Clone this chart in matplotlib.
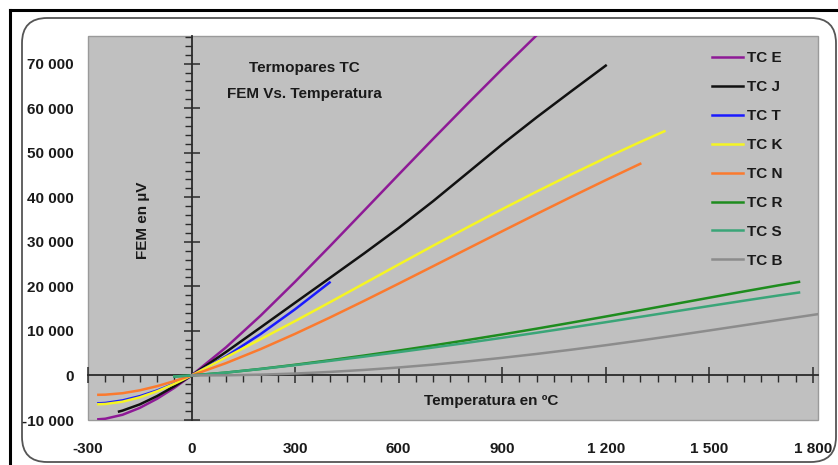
import matplotlib
matplotlib.use("Agg")
import matplotlib.pyplot as plt
from matplotlib.patches import FancyBboxPatch, Rectangle
from matplotlib.lines import Line2D
from matplotlib.ticker import MultipleLocator, FuncFormatter

# ---------------- data (µV vs °C) ----------------
E_t = [-270, -250, -200, -150, -100, -50, 0, 100, 200, 300, 400, 500, 600, 700, 800, 900, 1000]
E_v = [-9835, -9718, -8825, -7279, -5237, -2787, 0, 6319, 13421, 21036, 28946, 37005, 45093,
       53112, 61017, 68787, 76373]

J_t = [-210, -200, -150, -100, -50, 0, 100, 200, 300, 400, 500, 600, 700, 800, 900, 1000, 1100, 1200]
J_v = [-8095, -7890, -6500, -4633, -2431, 0, 5269, 10779, 16327, 21848, 27393, 33102, 39132,
       45494, 51877, 57953, 63792, 69553]

T_t = [-270, -250, -200, -150, -100, -50, 0, 100, 200, 300, 400]
T_v = [-6258, -6180, -5603, -4648, -3379, -1819, 0, 4279, 9288, 14862, 20872]

K_t = [-270, -250, -200, -150, -100, -50, 0, 100, 200, 300, 400, 500, 600, 700, 800, 900, 1000,
       1100, 1200, 1300, 1370]
K_v = [-6458, -6404, -5891, -4913, -3554, -1889, 0, 4096, 8138, 12209, 16397, 20644, 24905, 29129,
       33275, 37326, 41276, 45119, 48838, 52410, 54819]

N_t = [-270, -250, -200, -150, -100, -50, 0, 100, 200, 300, 400, 500, 600, 700, 800, 900, 1000,
       1100, 1200, 1300]
N_v = [-4345, -4313, -3990, -3336, -2407, -1269, 0, 2774, 5913, 9341, 12974, 16748, 20613, 24527,
       28455, 32371, 36256, 40087, 43846, 47513]

R_t = [-50, 0, 100, 200, 300, 400, 500, 600, 700, 800, 900, 1000, 1100, 1200, 1300, 1400, 1500,
       1600, 1700, 1760]
R_v = [-226, 0, 647, 1469, 2401, 3408, 4471, 5583, 6743, 7950, 9205, 10506, 11850, 13228, 14629,
       16040, 17451, 18849, 20222, 21003]

S_t = [-50, 0, 100, 200, 300, 400, 500, 600, 700, 800, 900, 1000, 1100, 1200, 1300, 1400, 1500,
       1600, 1700, 1760]
S_v = [-236, 0, 646, 1441, 2323, 3259, 4233, 5239, 6275, 7345, 8449, 9587, 10757, 11951, 13159,
       14373, 15582, 16777, 17947, 18612]

B_t = [0, 100, 200, 300, 400, 500, 600, 700, 800, 900, 1000, 1100, 1200, 1300, 1400, 1500, 1600,
       1700, 1800, 1820]
B_v = [0, 33, 178, 431, 787, 1242, 1792, 2431, 3154, 3957, 4834, 5780, 6786, 7848, 8956, 10099,
       11263, 12433, 13591, 13820]

series_names = ["TC E", "TC J", "TC T", "TC K", "TC N", "TC R", "TC S", "TC B"]
series_t = [E_t, J_t, T_t, K_t, N_t, R_t, S_t, B_t]
series_v = [E_v, J_v, T_v, K_v, N_v, R_v, S_v, B_v]
series_colors = ["#8e1a96", "#111111", "#1a1aff", "#f5f523", "#fb7a2e", "#1e8c1e", "#3aa578", "#8c8c8c"]

x_ticks = [-300, 0, 300, 600, 900, 1200, 1500, 1800]
y_ticks = [-10000, 0, 10000, 20000, 30000, 40000, 50000, 60000, 70000]

# ---------------- style ----------------
FONT = ["Liberation Sans Narrow", "Liberation Sans", "DejaVu Sans"]
plt.rcParams["font.family"] = FONT
plt.rcParams["font.weight"] = "bold"
TXT = "#1a1a1a"
FS = 11

W, H = 838, 465
fig = plt.figure(figsize=(W / 100, H / 100), dpi=100)
fig.patch.set_facecolor("white")

def fx(px):
    return px / W

def fy(py):
    return 1 - py / H

# outer decorations (behind the axes)
fig.add_artist(Line2D([fx(10), 1], [fy(10), fy(10)], color="black", lw=2.2,
                      transform=fig.transFigure, zorder=-2))
fig.add_artist(Line2D([fx(10), fx(10)], [fy(10), 0], color="black", lw=2.2,
                      transform=fig.transFigure, zorder=-2))
fig.add_artist(FancyBboxPatch((fx(22), fy(462)), fx(836) - fx(22), fy(18) - fy(462),
                              boxstyle="round,pad=0,rounding_size=0.03",
                              mutation_aspect=W / H,
                              transform=fig.transFigure, facecolor="white",
                              edgecolor="#555555", lw=1.3, zorder=-1))

pos = [fx(88), fy(420), fx(818) - fx(88), fy(36) - fy(420)]
xlim = (-300, 1815)
ylim = (-10000, 76200)

fmt = FuncFormatter(lambda v, p: f"{v:,.0f}".replace(",", " "))

# label axes (tick labels at the outer edges)
lab = fig.add_axes(pos)
lab.set_xlim(*xlim)
lab.set_ylim(*ylim)
lab.patch.set_visible(False)
for s in lab.spines.values():
    s.set_visible(False)
lab.set_xticks(x_ticks)
lab.set_yticks(y_ticks)
lab.xaxis.set_major_formatter(fmt)
lab.yaxis.set_major_formatter(fmt)
lab.tick_params(axis="x", length=0, pad=16, labelsize=FS, labelcolor=TXT)
lab.tick_params(axis="y", length=0, pad=10, labelsize=FS, labelcolor=TXT)
for t in lab.get_xticklabels() + lab.get_yticklabels():
    t.set_fontweight("bold")

# main axes
ax = fig.add_axes(pos)
ax.set_facecolor("#c0c0c0")
ax.set_xlim(*xlim)
ax.set_ylim(*ylim)
ax.add_patch(Rectangle((0, 0), 1, 1, transform=ax.transAxes, fill=False,
                       edgecolor="#9a9a9a", lw=1.0, zorder=1, clip_on=False))
for side in ["top", "right"]:
    ax.spines[side].set_visible(False)
ax.spines["left"].set_position(("data", 0))
ax.spines["bottom"].set_position(("data", 0))
ax.spines["left"].set_color("#2a2a2a")
ax.spines["bottom"].set_color("#2a2a2a")
ax.spines["left"].set_linewidth(1.3)
ax.spines["bottom"].set_linewidth(1.3)
ax.set_xticks(x_ticks)
ax.set_yticks(y_ticks)
ax.xaxis.set_minor_locator(MultipleLocator(50))
ax.yaxis.set_minor_locator(MultipleLocator(2000))
ax.tick_params(which="major", direction="inout", length=11, width=1.1, color="#2a2a2a",
               labelbottom=False, labelleft=False)
ax.tick_params(which="minor", direction="out", length=5, width=1.0, color="#2a2a2a")

handles = []
for name, t, v, c in zip(series_names, series_t, series_v, series_colors):
    ln, = ax.plot(t, v, color=c, lw=1.8, label=name, zorder=3)
    handles.append(ln)

leg = ax.legend(handles=handles, loc="upper left",
                bbox_to_anchor=(fx(712), fy(51)), bbox_transform=fig.transFigure,
                frameon=False, fontsize=FS, handlelength=2.0, handletextpad=0.3,
                labelspacing=0.98, borderpad=0, borderaxespad=0)
for t in leg.get_texts():
    t.set_fontweight("bold")
    t.set_color(TXT)

fig.text(fx(304), fy(68), "Termopares TC", ha="center", va="center", fontsize=11,
         fontweight="bold", color=TXT)
fig.text(fx(304), fy(94), "FEM Vs. Temperatura", ha="center", va="center", fontsize=11,
         fontweight="bold", color=TXT)
fig.text(fx(143), fy(220), "FEM en µV", ha="center", va="center", rotation=90, fontsize=11,
         fontweight="bold", color=TXT)
fig.text(fx(491), fy(401), "Temperatura en ºC", ha="center", va="center", fontsize=11,
         fontweight="bold", color=TXT)

fig.savefig("out.png", dpi=100)
